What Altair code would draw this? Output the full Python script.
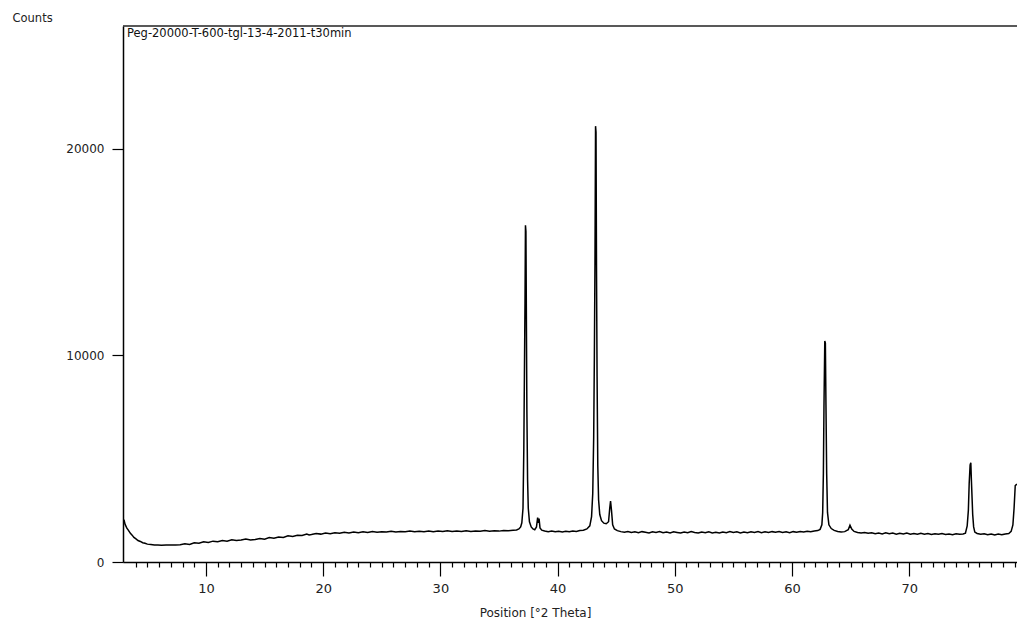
import altair as alt
import pandas as pd

# ---- data ----
two_theta = [
    3.0, 3.1, 3.25, 3.4, 3.55, 3.7, 3.85, 4.0, 4.2, 4.4, 4.6, 4.8, 5.0, 5.3, 5.6, 5.9,
    6.2, 6.6, 7.0, 7.4, 7.8, 8.2, 8.6, 9.0, 9.4, 9.8, 10.2, 10.6, 11.0, 11.4, 11.8,
    12.2, 12.6, 13.0, 13.4, 13.8, 14.2, 14.6, 15.0, 15.4, 15.8, 16.2, 16.6, 17.0, 17.4,
    17.8, 18.2, 18.6, 18.8, 19.0, 19.4, 19.8, 20.2, 20.6, 21.0, 21.4, 21.8, 22.2, 22.6,
    23.0, 23.4, 23.8, 24.2, 24.6, 25.0, 25.4, 25.8, 26.2, 26.6, 27.0, 27.4, 27.8, 28.2,
    28.6, 29.0, 29.4, 29.8, 30.2, 30.6, 31.0, 31.4, 31.8, 32.2, 32.6, 33.0, 33.4, 33.8,
    34.2, 34.6, 35.0, 35.4, 35.8, 36.2, 36.5,
    36.7, 36.85, 36.95, 37.05, 37.12, 37.17, 37.22, 37.26, 37.30, 37.34, 37.38, 37.44,
    37.5, 37.6, 37.75, 37.9, 38.05, 38.2, 38.3, 38.36, 38.42, 38.5, 38.65, 38.9, 39.2,
    39.5, 39.8, 40.1, 40.4, 40.7, 41.0, 41.3, 41.6, 41.9, 42.2, 42.5, 42.75, 42.9, 43.0,
    43.08, 43.14, 43.19, 43.24, 43.28, 43.32, 43.37, 43.43, 43.5, 43.6, 43.75, 43.95,
    44.15, 44.35, 44.45, 44.52, 44.6, 44.7, 44.85, 45.1, 45.4,
    45.7, 46.0, 46.3, 46.6, 46.9, 47.2, 47.5, 47.8, 48.1, 48.4, 48.7, 49.0, 49.3, 49.6,
    49.9, 50.2, 50.5, 50.8, 51.1, 51.4, 51.7, 52.0, 52.3, 52.6, 52.9, 53.2, 53.5, 53.8,
    54.1, 54.4, 54.7, 55.0, 55.3, 55.6, 55.9, 56.2, 56.5, 56.8, 57.1, 57.4, 57.7, 58.0,
    58.3, 58.6, 58.9, 59.2, 59.5, 59.8, 60.1, 60.4, 60.7, 61.0, 61.3, 61.6, 61.9, 62.2,
    62.4, 62.55, 62.62, 62.68, 62.73, 62.8, 62.85, 62.9, 62.96, 63.03, 63.15, 63.35,
    63.6, 63.9, 64.2, 64.5, 64.8, 64.95, 65.1, 65.3, 65.6, 65.9, 66.2, 66.5, 66.8, 67.1,
    67.4, 67.7, 68.0, 68.3, 68.6, 68.9, 69.2, 69.5, 69.8, 70.1, 70.4, 70.7, 71.0, 71.3,
    71.6, 71.9, 72.2, 72.5, 72.8, 73.1, 73.4, 73.7, 74.0, 74.3, 74.6, 74.8, 74.95, 75.05,
    75.12, 75.2, 75.26, 75.3, 75.36, 75.42, 75.5, 75.6, 75.8, 76.1, 76.4, 76.7, 77.0,
    77.3, 77.6, 77.9, 78.2, 78.5, 78.7, 78.85, 78.95, 79.05, 79.15, 79.3,
]
counts = [
    2050, 1820, 1640, 1520, 1390, 1300, 1190, 1130, 1040, 995, 935, 905, 865, 850, 825, 820,
    815, 822, 818, 826, 832, 880, 850, 930, 905, 975, 950, 1010, 985, 1040, 1005,
    1075, 1040, 1060, 1110, 1070, 1085, 1140, 1100, 1180, 1150, 1210, 1190, 1265, 1240,
    1290, 1280, 1350, 1310, 1330, 1380, 1350, 1400, 1370, 1420, 1390, 1440, 1410, 1455,
    1420, 1460, 1430, 1475, 1440, 1470, 1450, 1490, 1455, 1480, 1460, 1500, 1465, 1490,
    1470, 1505, 1470, 1495, 1475, 1510, 1480, 1500, 1475, 1515, 1480, 1505, 1485, 1520,
    1490, 1510, 1495, 1530, 1510, 1540, 1550,
    1600, 1700, 1900, 2600, 5500, 9000, 12500, 16300, 16000, 11700, 7400, 4000,
    2600, 1950, 1700, 1600, 1560, 1700, 2150, 1900, 2100, 1650, 1540, 1500, 1470,
    1500, 1460, 1490, 1455, 1490, 1460, 1500, 1480, 1520, 1540, 1600, 1750, 2200, 3300,
    6000, 10000, 14400, 21100, 20800, 14400, 9000, 4700, 3000, 2300, 2000, 1880,
    1850, 1950, 2600, 2950, 2500, 1800, 1600, 1520, 1470,
    1440, 1480, 1430, 1460, 1420, 1470, 1440, 1410, 1460, 1430, 1470, 1420, 1450, 1410,
    1460, 1430, 1400, 1450, 1420, 1470, 1430, 1400, 1450, 1420, 1460, 1410, 1440, 1400,
    1450, 1420, 1470, 1430, 1460, 1410, 1450, 1420, 1460, 1430, 1470, 1420, 1460, 1430,
    1470, 1440, 1480, 1430, 1460, 1420, 1470, 1440, 1480, 1450, 1490, 1460, 1500, 1520,
    1580, 1800, 2400, 4300, 7500, 10700, 10600, 7600, 4300, 2400, 1800, 1620,
    1530, 1480, 1450, 1470, 1560, 1780, 1600, 1480, 1430, 1400, 1430, 1390, 1420, 1370,
    1400, 1360, 1410, 1370, 1400, 1350, 1390, 1360, 1400, 1350, 1380, 1340, 1390, 1350,
    1380, 1330, 1370, 1340, 1380, 1330, 1360, 1320, 1370, 1340, 1360, 1400, 1750, 2500,
    3800, 4700, 4800, 4100, 3200, 2300, 1700, 1450, 1380, 1340, 1370, 1320, 1360,
    1310, 1350, 1320, 1360, 1380, 1480, 1800, 2600, 3700, 3750, 3750,
]
y_ticks = [0, 10000, 20000]
x_ticks = list(range(4, 80))
sample_label = ["Peg-20000-T-600-tgl-13-4-2011-t30min"]
x_title = "Position [°2 Theta]"
y_title = "Counts"

df = pd.DataFrame({"two_theta": two_theta, "counts": counts})
lab = pd.DataFrame({"label": sample_label})

W, H = 894, 536
FONT = "DejaVu Sans"

x_scale = alt.Scale(domain=[2.92, 79.2], nice=False, zero=False)
y_scale = alt.Scale(domain=[0, 25950], nice=False)

x_axis = alt.Axis(
    values=x_ticks,
    tickSize={"condition": {"test": "datum.value % 10 === 0", "value": 14}, "value": 5},
    labelExpr="datum.value % 10 === 0 ? datum.label : ''",
    labelOverlap=False,
    labelPadding=6,
    labelFontSize=13,
    labelFont=FONT,
    labelColor="#222",
    domainColor="black",
    domainWidth=1.5,
    tickColor="black",
    tickWidth=1.2,
    grid=False,
    title=x_title,
    titleFont=FONT,
    titleFontSize=12,
    titleFontWeight="normal",
    titleColor="#222",
    titleX=412,
    titleY=50,
    titleAlign="center",
    titleBaseline="middle",
)
y_axis = alt.Axis(
    values=y_ticks,
    format="d",
    tickSize=11,
    labelPadding=8,
    labelFontSize=12,
    labelFont=FONT,
    labelColor="#222",
    domainColor="black",
    domainWidth=1.5,
    tickColor="black",
    tickWidth=1.2,
    grid=False,
    title=y_title,
    titleFont=FONT,
    titleFontSize=11.5,
    titleFontWeight="normal",
    titleColor="#222",
    titleAngle=0,
    titleX=-111,
    titleY=-8,
    titleAlign="left",
    titleBaseline="middle",
)

line = alt.Chart(df).mark_line(color="black", strokeWidth=1.5, clip=True).encode(
    x=alt.X("two_theta:Q", scale=x_scale, axis=x_axis),
    y=alt.Y("counts:Q", scale=y_scale, axis=y_axis),
)

text = alt.Chart(lab).mark_text(
    align="left", baseline="middle", fontSize=11.5, font=FONT, color="#111"
).encode(x=alt.value(4), y=alt.value(8), text="label:N")

border = alt.Chart(lab).mark_rule(color="#222", strokeWidth=1.5).encode(
    x=alt.value(0), x2=alt.value(W), y=alt.value(0)
)

chart = alt.layer(line, text, border).properties(
    width=W,
    height=H,
    autosize=alt.AutoSizeParams(type="none"),
    padding={"left": 123, "top": 26, "right": 0, "bottom": 66},
    background="white",
).configure_view(stroke=None)

chart.save("out.html", embed_options={"renderer": "svg", "actions": False})
